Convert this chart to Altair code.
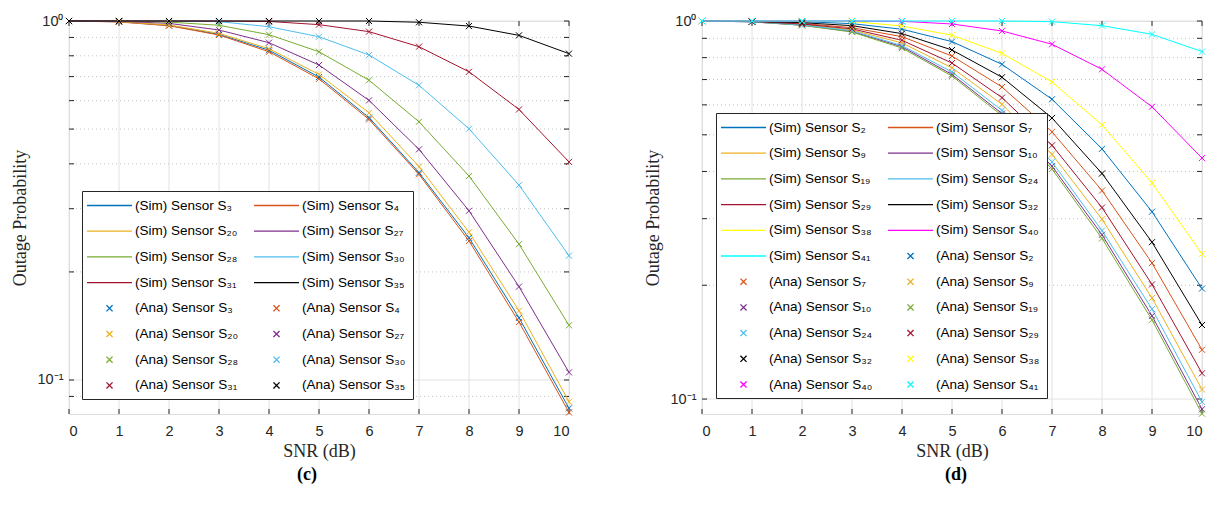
import altair as alt
import pandas as pd

SNR = list(range(11))

# ---------------- panel (c) ----------------
C_SENSORS = ["3", "4", "20", "27", "28", "30", "31", "35"]
C_COLORS = ["#0072BD", "#D95319", "#EDB120", "#7E2F8E", "#77AC30", "#4DBEEE", "#A2142F", "#000000"]
C_S3 = [1.0, 0.995, 0.972, 0.918, 0.829, 0.698, 0.538, 0.378, 0.249, 0.149, 0.0834]
C_S4 = [1.0, 0.994, 0.970, 0.914, 0.821, 0.690, 0.532, 0.374, 0.244, 0.145, 0.0812]
C_S20 = [1.0, 0.996, 0.975, 0.924, 0.837, 0.710, 0.555, 0.393, 0.258, 0.156, 0.087]
C_S27 = [1.0, 0.998, 0.985, 0.944, 0.870, 0.754, 0.601, 0.439, 0.296, 0.182, 0.105]
C_S28 = [1.0, 0.999, 0.993, 0.973, 0.916, 0.821, 0.684, 0.524, 0.370, 0.239, 0.142]
C_S30 = [1.0, 1.0, 0.999, 0.996, 0.964, 0.904, 0.804, 0.662, 0.501, 0.349, 0.222]
C_S31 = [1.0, 1.0, 1.0, 1.0, 0.997, 0.977, 0.934, 0.848, 0.722, 0.567, 0.405]
C_S35 = [1.0, 1.0, 1.0, 1.0, 1.0, 1.0, 1.0, 0.992, 0.968, 0.912, 0.811]
C_VALUES = [C_S3, C_S4, C_S20, C_S27, C_S28, C_S30, C_S31, C_S35]
C_YMIN = 0.0804
C_MINOR = [0.09, 0.2, 0.3, 0.4, 0.5, 0.6, 0.7, 0.8, 0.9]

# ---------------- panel (d) ----------------
D_SENSORS = ["2", "7", "9", "10", "19", "24", "29", "32", "38", "40", "41"]
D_COLORS = ["#0072BD", "#D95319", "#EDB120", "#7E2F8E", "#77AC30", "#4DBEEE", "#A2142F",
            "#000000", "#FFFF00", "#FF00FF", "#00FFFF"]
D_S2 = [1.0, 0.999, 0.996, 0.984, 0.951, 0.882, 0.768, 0.621, 0.459, 0.313, 0.196]
D_S7 = [1.0, 0.997, 0.985, 0.960, 0.909, 0.808, 0.669, 0.509, 0.356, 0.229, 0.135]
D_S9 = [1.0, 0.996, 0.979, 0.947, 0.875, 0.752, 0.602, 0.444, 0.299, 0.185, 0.106]
D_S10 = [1.0, 0.995, 0.975, 0.938, 0.855, 0.722, 0.569, 0.413, 0.272, 0.166, 0.094]
D_S19 = [1.0, 0.995, 0.974, 0.935, 0.848, 0.715, 0.562, 0.406, 0.266, 0.162, 0.0915]
D_S24 = [1.0, 0.995, 0.977, 0.942, 0.861, 0.733, 0.580, 0.424, 0.279, 0.173, 0.0983]
D_S29 = [1.0, 0.997, 0.982, 0.953, 0.889, 0.774, 0.627, 0.469, 0.321, 0.201, 0.117]
D_S32 = [1.0, 0.998, 0.990, 0.972, 0.926, 0.838, 0.710, 0.554, 0.395, 0.260, 0.157]
D_S38 = [1.0, 1.0, 0.999, 0.997, 0.970, 0.917, 0.821, 0.690, 0.531, 0.373, 0.242]
D_S40 = [1.0, 1.0, 1.0, 1.0, 0.998, 0.982, 0.941, 0.868, 0.745, 0.593, 0.434]
D_S41 = [1.0, 1.0, 1.0, 1.0, 1.0, 1.0, 1.0, 0.996, 0.972, 0.922, 0.830]
D_VALUES = [D_S2, D_S7, D_S9, D_S10, D_S19, D_S24, D_S29, D_S32, D_S38, D_S40, D_S41]
D_YMIN = 0.0913
D_MINOR = [0.2, 0.3, 0.4, 0.5, 0.6, 0.7, 0.8, 0.9]

MAJOR = [0.1, 1.0]

W, H = 500, 393
AXIS_COLOR = "#262626"
SANS = "Liberation Sans"
SERIF = "Liberation Serif"
SUB = str.maketrans("0123456789", "₀₁₂₃₄₅₆₇₈₉")
# legend/marker glyphs: a long horizontal stroke for simulated curves, a small x for analysis
SYM_SIZE = 169
LINE_SYM = "M-3.46,0L3.46,0"
CROSS = "M-0.47,-0.47L0.47,0.47M-0.47,0.47L0.47,-0.47"


def panel(sensors, colors, values, ymin, minor, legend_x, legend_y, caption, cap_dx):
    n = len(sensors)
    sim_labels = ["(Sim) Sensor S" + s.translate(SUB) for s in sensors]
    ana_labels = ["(Ana) Sensor S" + s.translate(SUB) for s in sensors]
    sim_rows, ana_rows = [], []
    for ls, la, vals in zip(sim_labels, ana_labels, values):
        for x, v in zip(SNR, vals):
            sim_rows.append({"snr": x, "p": v, "label": ls})
            ana_rows.append({"snr": x, "p": v, "label": la})
    sim_df = pd.DataFrame(sim_rows)
    ana_df = pd.DataFrame(ana_rows)

    # legend entries in reading order (row by row, two per row); the legend fills
    # column by column, so reorder: every other entry to the first column.
    entries = list(zip(sim_labels + ana_labels, colors + colors, [LINE_SYM] * n + [CROSS] * n))
    ordered = entries[0::2] + entries[1::2]
    domain = [e[0] for e in ordered]
    c_range = [e[1] for e in ordered]
    s_range = [e[2] for e in ordered]

    xs = alt.Scale(domain=[0, 10], nice=False, zero=False)
    ys = alt.Scale(type="log", domain=[ymin, 1], nice=False)
    x_axis = alt.Axis(values=SNR, format="d", grid=False, ticks=False, tickSize=0, domain=False,
                      labelFont=SANS, labelFontSize=14.5, labelColor=AXIS_COLOR, labelPadding=10,
                      titleFont=SERIF, titleFontSize=18, titleFontWeight="normal",
                      titleColor=AXIS_COLOR, titlePadding=5)
    y_axis = alt.Axis(values=MAJOR, grid=False, ticks=False, tickSize=0, domain=False,
                      labelExpr="datum.value >= 0.99 ? '10⁰' : '10⁻¹'",
                      labelFont=SANS, labelFontSize=14.5, labelColor=AXIS_COLOR, labelPadding=6,
                      titleFont=SERIF, titleFontSize=18, titleFontWeight="normal",
                      titleColor=AXIS_COLOR, titlePadding=8)
    X = alt.X("snr:Q", scale=xs, axis=x_axis, title="SNR (dB)")
    Y = alt.Y("p:Q", scale=ys, axis=y_axis, title="Outage Probability")

    legend = alt.Legend(orient="none", legendX=legend_x, legendY=legend_y, columns=2,
                        title=None, symbolSize=SYM_SIZE, symbolStrokeWidth=1.3,
                        symbolOpacity=1, symbolOffset=13, labelFont=SANS, labelFontSize=13.5,
                        labelColor="#000000", labelLimit=0, labelOffset=18,
                        rowPadding=11.7, columnPadding=12, padding=7,
                        strokeColor=AXIS_COLOR, fillColor="white", zindex=1)
    color = alt.Color("label:N", scale=alt.Scale(domain=domain, range=c_range), legend=legend)
    shape = alt.Shape("label:N", scale=alt.Scale(domain=domain, range=s_range), legend=legend)

    xgrid_df = pd.DataFrame({"snr": SNR})
    minor_df = pd.DataFrame({"p": minor})
    major_df = pd.DataFrame({"p": MAJOR})
    ytick_df = pd.DataFrame({"p": minor + MAJOR})

    xgrid = alt.Chart(xgrid_df).mark_rule(color="#e2e2e2", strokeWidth=1).encode(x=X)
    ymaj = alt.Chart(major_df).mark_rule(color="#e2e2e2", strokeWidth=1).encode(y=Y)
    ymin_g = alt.Chart(minor_df).mark_rule(color="#c4c4c4", strokeWidth=1,
                                           strokeDash=[1, 3]).encode(y=Y)
    xt_bot = alt.Chart(xgrid_df).mark_rule(color=AXIS_COLOR).encode(
        x=X, y=alt.value(H), y2=alt.value(H - 5))
    xt_top = alt.Chart(xgrid_df).mark_rule(color=AXIS_COLOR).encode(
        x=X, y=alt.value(0), y2=alt.value(5))
    yt_l = alt.Chart(ytick_df).mark_rule(color=AXIS_COLOR).encode(
        y=Y, x=alt.value(0), x2=alt.value(5))
    yt_r = alt.Chart(ytick_df).mark_rule(color=AXIS_COLOR).encode(
        y=Y, x=alt.value(W - 5), x2=alt.value(W))

    lines = alt.Chart(sim_df).mark_line(strokeWidth=1).encode(x=X, y=Y, color=color, detail="label:N")
    points = alt.Chart(ana_df).mark_point(filled=False, size=SYM_SIZE, strokeWidth=1, opacity=1).encode(
        x=X, y=Y, color=color, shape=shape)

    return alt.layer(xgrid, ymaj, ymin_g, xt_bot, xt_top, yt_l, yt_r, lines, points).properties(
        width=W, height=H,
        title=alt.TitleParams(caption, orient="bottom", anchor="middle", frame="group",
                              font=SERIF, fontSize=18, fontWeight="bold", color="#000000",
                              dx=cap_dx, offset=5))


left = panel(C_SENSORS, C_COLORS, C_VALUES, C_YMIN, C_MINOR, 13, 170, "(c)", -12)
right = panel(D_SENSORS, D_COLORS, D_VALUES, D_YMIN, D_MINOR, 14, 92, "(d)", 4)

chart = alt.hconcat(left, right, spacing=68).resolve_scale(
    x="independent", y="independent", color="independent", shape="independent"
).properties(
    padding={"left": 10, "top": 12, "right": 0, "bottom": 0}
).configure_view(stroke=AXIS_COLOR, strokeWidth=1).configure(font=SANS)

chart.save("out.html", embed_options={"renderer": "svg", "actions": False})
